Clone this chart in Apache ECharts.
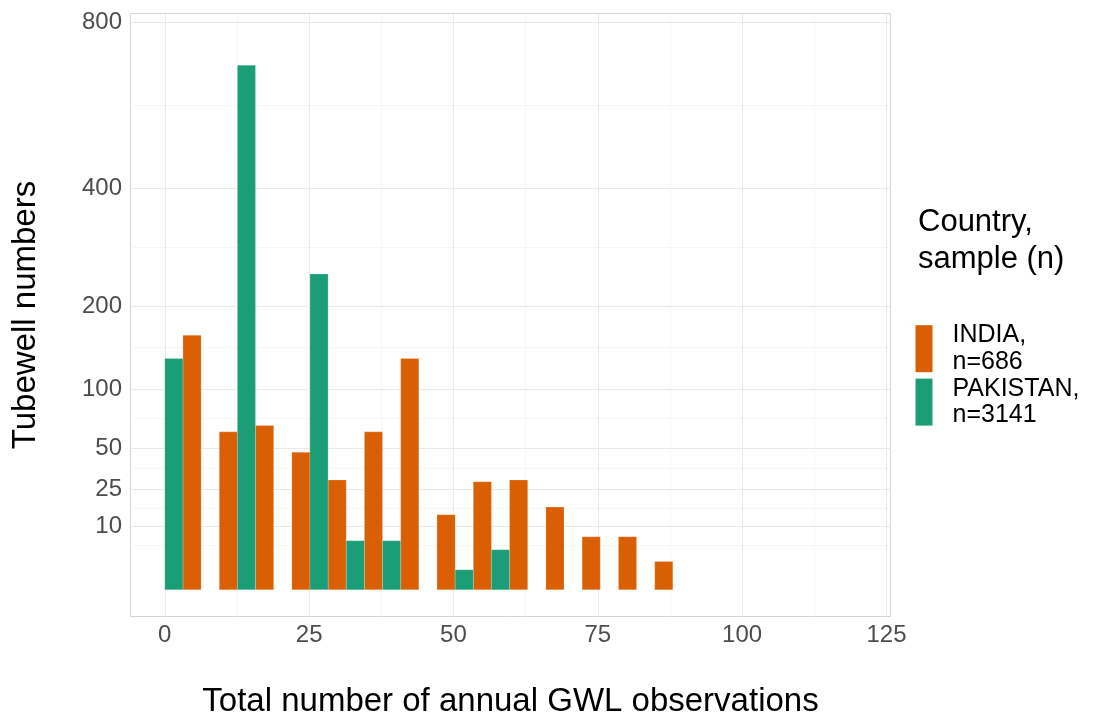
<!DOCTYPE html>
<html>
<head>
<meta charset="utf-8">
<script src="https://cdn.jsdelivr.net/npm/echarts@6/dist/echarts.min.js"></script>
<style>
html,body{margin:0;padding:0;background:#fff;}
#chart{width:1093px;height:717px;}
</style>
</head>
<body>
<div id="chart"></div>
<script>
// ---- data (histogram bins, counts) ----
const binStart = [0, 6.29, 12.57, 18.86, 25.14, 31.43, 37.71, 44.0, 50.29, 56.57, 62.86, 69.14, 75.43, 81.71];
const binWidth = 6.29;
const india    = [161, 62, 67, 47, 30, 62, 133, 14, 29, 30, 17, 7, 7, 2];
const pakistan = [133, 0, 684, 0, 248, 6, 6, 0, 1, 4, 0, 0, 0, 0];
const yBreaks = [10, 25, 50, 100, 200, 400, 800];
const xBreaks = [0, 25, 50, 75, 100, 125];
const seriesNames = ['INDIA,\nn=686', 'PAKISTAN,\nn=3141'];
const legendTitle = 'Country,\nsample (n)';
const xTitle = 'Total number of annual GWL observations';
const yTitle = 'Tubewell numbers';

// ---- helpers ----
const FONT = '"Liberation Sans", Arial, sans-serif';
const sq = v => Math.sqrt(v);           // square-root y scale
const ySq = yBreaks.map(sq);
// minor breaks: midpoints in transformed space (extended one step below)
const yMinor = [];
const yExt = [ySq[0] - (ySq[1] - ySq[0])].concat(ySq);
for (let i = 0; i < yExt.length - 1; i++) yMinor.push((yExt[i] + yExt[i + 1]) / 2);
const xMinor = [];
for (let i = 0; i < xBreaks.length - 1; i++) xMinor.push((xBreaks[i] + xBreaks[i + 1]) / 2);

function barData(counts, offset) {
  const out = [];
  counts.forEach((c, i) => {
    if (c > 0) out.push([binStart[i] + offset, binStart[i] + offset + binWidth / 2, sq(c)]);
  });
  return out;
}

function renderBar(params, api) {
  const p0 = api.coord([api.value(0), 0]);
  const p1 = api.coord([api.value(1), api.value(2)]);
  return {
    type: 'rect',
    shape: { x: p0[0], y: p1[1], width: p1[0] - p0[0], height: p0[1] - p1[1] },
    style: { fill: api.visual('color'), stroke: 'rgba(255,255,255,0.35)', lineWidth: 0.6 }
  };
}

const majorStyle = { color: '#e9e9e9', width: 1.1, type: 'solid' };
const minorStyle = { color: '#f3f3f3', width: 0.7, type: 'solid' };
const gridLines = []
  .concat(yMinor.map(v => ({ yAxis: v, lineStyle: minorStyle })))
  .concat(xMinor.map(v => ({ xAxis: v, lineStyle: minorStyle })))
  .concat(ySq.map(v => ({ yAxis: v, lineStyle: majorStyle })))
  .concat(xBreaks.map(v => ({ xAxis: v, lineStyle: majorStyle })));

const chart = echarts.init(document.getElementById('chart'), null, { renderer: 'canvas' });
chart.setOption({
  animation: false,
  backgroundColor: '#ffffff',
  textStyle: { fontFamily: FONT },
  title: {
    text: legendTitle,
    left: 913, top: 199,
    textStyle: { fontFamily: FONT, fontSize: 31, fontWeight: 'normal', color: '#000', lineHeight: 37 }
  },
  legend: {
    orient: 'vertical',
    left: 915.5, top: 322,
    padding: 0,
    itemGap: 0,
    itemWidth: 17, itemHeight: 47,
    icon: 'rect',
    selectedMode: false,
    data: [seriesNames[0], seriesNames[1]],
    textStyle: { fontFamily: FONT, fontSize: 25, color: '#000', lineHeight: 26.7, padding: [0, 0, 0, 15] }
  },
  grid: {
    left: 130.5, top: 13.5, width: 760, height: 603,
    outerBoundsMode: 'none', containLabel: false,
    show: true, borderColor: '#d4d4d4', borderWidth: 1, backgroundColor: 'transparent'
  },
  xAxis: {
    type: 'value', min: -5.94, max: 125.7,
    name: xTitle, nameLocation: 'middle', nameGap: 69,
    nameTextStyle: { fontFamily: FONT, fontSize: 33, color: '#000' },
    axisLine: { show: false },
    axisTick: { show: true, customValues: xBreaks, length: 4.5, lineStyle: { color: '#c8c8c8', width: 1 } },
    axisLabel: { customValues: xBreaks, margin: 7, fontSize: 24, color: '#4d4d4d', fontFamily: FONT },
    splitLine: { show: false }
  },
  yAxis: {
    type: 'value', min: -1.33, max: 28.73,
    name: yTitle, nameLocation: 'middle', nameGap: 88, nameRotate: 90,
    nameTextStyle: { fontFamily: FONT, fontSize: 33, color: '#000' },
    axisLine: { show: false },
    axisTick: { show: true, customValues: ySq, length: 4, lineStyle: { color: '#c8c8c8', width: 1 } },
    axisLabel: {
      customValues: ySq, margin: 8.5, fontSize: 24, color: '#4d4d4d', fontFamily: FONT,
      formatter: v => String(Math.round(v * v))
    },
    splitLine: { show: false }
  },
  series: [
    {
      name: 'grid', type: 'line', data: [], silent: true, z: 1,
      markLine: { silent: true, symbol: 'none', z: 1, label: { show: false }, animation: false, data: gridLines }
    },
    {
      name: seriesNames[0], type: 'custom', z: 3,
      itemStyle: { color: '#D95F02' },
      renderItem: renderBar,
      encode: { x: [0, 1], y: 2 },
      data: barData(india, binWidth / 2)
    },
    {
      name: seriesNames[1], type: 'custom', z: 3,
      itemStyle: { color: '#1B9E77' },
      renderItem: renderBar,
      encode: { x: [0, 1], y: 2 },
      data: barData(pakistan, 0)
    }
  ]
});
</script>
</body>
</html>
